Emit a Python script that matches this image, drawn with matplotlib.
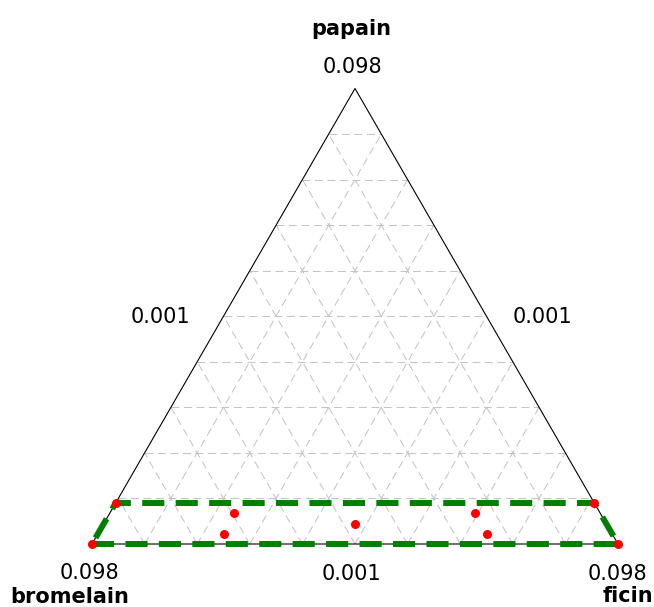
import matplotlib

matplotlib.use("Agg")
import matplotlib.pyplot as plt
import numpy as np

# 三角図の頂点ラベル
vertex_names = ["papain", "bromelain", "ficin"]
vertex_ticks = ["0.098", "0.098", "0.098"]
side_ticks = ["0.001", "0.001", "0.001"]

# 実験点（papain, ficin, bromelain の比率）
point_papain = [0.0, 0.0, 0.09, 0.09, 0.045, 0.0225, 0.0675, 0.0675, 0.0225]
point_ficin = [0.0, 1.0, 0.0, 0.91, 0.4775, 0.24, 0.237, 0.694, 0.74]
point_bromelain = [1.0, 0.0, 0.91, 0.0, 0.4775, 0.7375, 0.6955, 0.2385, 0.2375]

# 制約領域（台形）の頂点
region_papain = [0.0, 0.0, 0.09, 0.09, 0.0]
region_ficin = [0.0, 1.0, 0.91, 0.0, 0.0]

# グリッドの分割数
n_div = 10

W, H = 654, 607
SQ3 = np.sqrt(3) / 2


def to_xy(papain, ficin):
    """三成分比率 -> 直交座標（底辺長1の正三角形）"""
    p = np.asarray(papain, dtype=float)
    f = np.asarray(ficin, dtype=float)
    return f + p / 2, p * SQ3


def fx(x_px):
    return x_px / W


def fy(y_px):
    return 1 - y_px / H


fig = plt.figure(figsize=(W / 100, H / 100), dpi=100)
ax = fig.add_axes([0, 0, 1, 1])

# 三角形の位置（ピクセル）に合わせて軸範囲を設定
scale = 526.0
x0, y0 = 92.0, 544.0
ax.set_xlim(-x0 / scale, (W - x0) / scale)
ax.set_ylim(-(H - y0) / scale, y0 / scale)
ax.axis("off")

# グリッド線（各辺に平行）
grid_style = dict(color="#c4c4c4", lw=0.75, linestyle=(0, (7.5, 4.5)), zorder=1)
for i in range(1, n_div):
    v = i / n_div
    # papain 一定
    gx, gy = to_xy([v, v], [0, 1 - v])
    ax.plot(gx, gy, **grid_style)
    # ficin 一定
    gx, gy = to_xy([0, 1 - v], [v, v])
    ax.plot(gx, gy, **grid_style)
    # bromelain 一定
    gx, gy = to_xy([0, 1 - v], [1 - v, 0])
    ax.plot(gx, gy, **grid_style)

# 三角形の外枠
tx, ty = to_xy([0, 0, 1, 0], [0, 1, 0, 0])
ax.plot(tx, ty, color="black", lw=0.8, zorder=2)

# 制約領域
rx, ry = to_xy(region_papain, region_ficin)
ax.plot(
    rx,
    ry,
    color="#008000",
    lw=4.3,
    linestyle=(0, (3.7, 1.9)),
    dash_capstyle="butt",
    zorder=3,
)

# 実験点
px, py = to_xy(point_papain, point_ficin)
ax.plot(px, py, "o", color="red", markersize=6.5, markeredgewidth=0, zorder=4)

# ラベル
fs = 15
fig.text(fx(351), fy(35), vertex_names[0], ha="center", va="baseline",
         fontsize=fs, fontweight="bold")
fig.text(fx(352), fy(73), vertex_ticks[0], ha="center", va="baseline", fontsize=fs)
fig.text(fx(70), fy(603), vertex_names[1], ha="center", va="baseline",
         fontsize=fs, fontweight="bold")
fig.text(fx(89), fy(579), vertex_ticks[1], ha="center", va="baseline", fontsize=fs)
fig.text(fx(628), fy(602), vertex_names[2], ha="center", va="baseline",
         fontsize=fs, fontweight="bold")
fig.text(fx(617), fy(580), vertex_ticks[2], ha="center", va="baseline", fontsize=fs)

fig.text(fx(160), fy(323), side_ticks[0], ha="center", va="baseline", fontsize=fs)
fig.text(fx(542), fy(323), side_ticks[1], ha="center", va="baseline", fontsize=fs)
fig.text(fx(351), fy(580), side_ticks[2], ha="center", va="baseline", fontsize=fs)

fig.savefig("out.png", dpi=100)
